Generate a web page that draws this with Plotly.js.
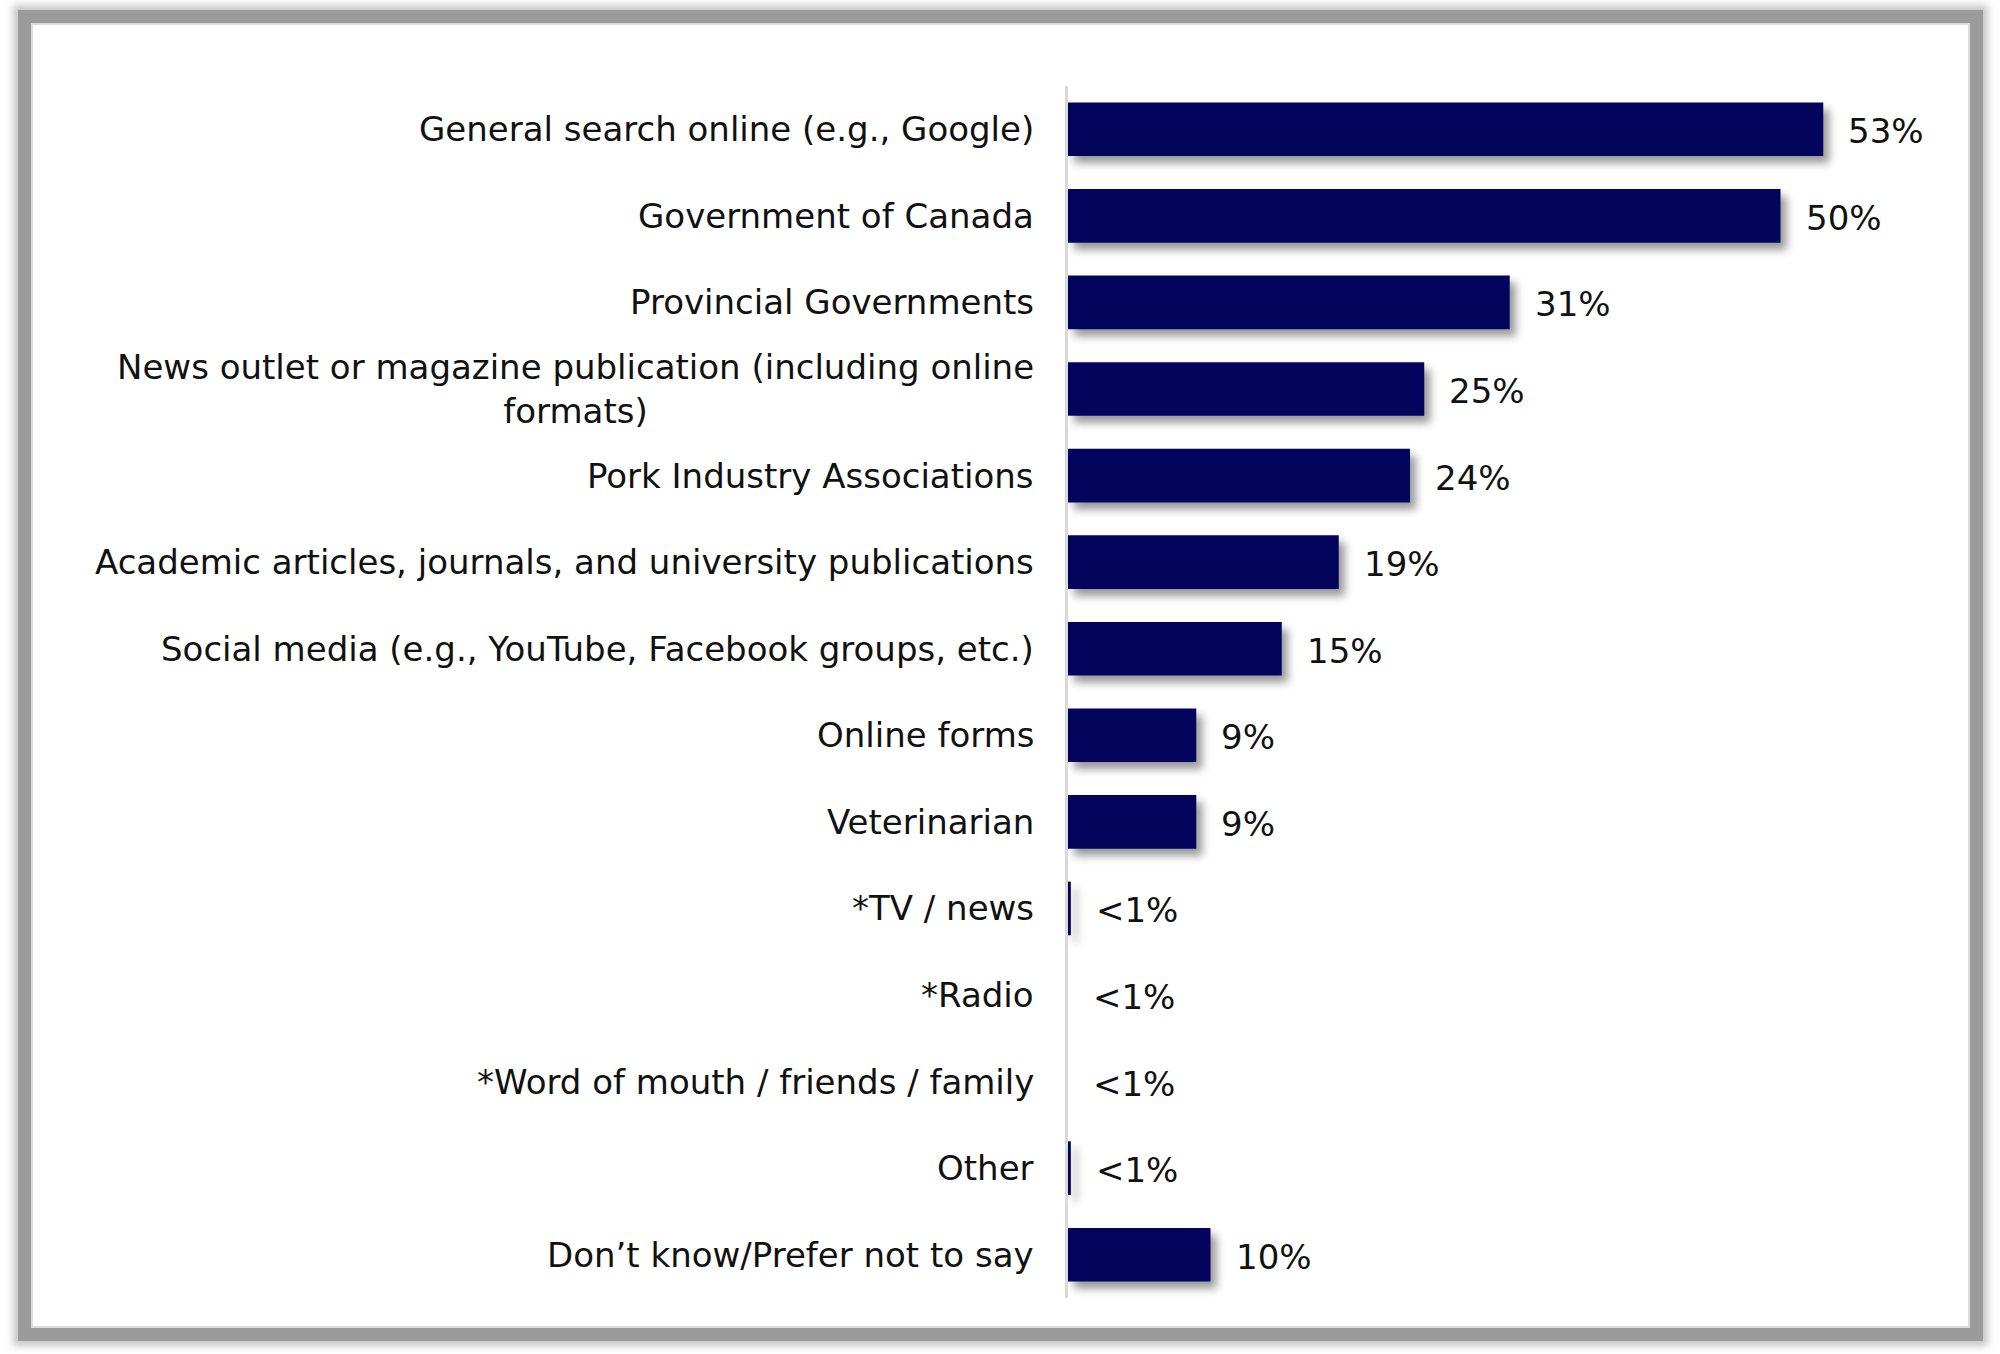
<!DOCTYPE html>
<html>
<head>
<meta charset="utf-8">
<script src="https://cdn.plot.ly/plotly-3.0.1.min.js"></script>
<style>
  body { margin: 0; background: #fff; }
  #frame {
    position: absolute; left: 31px; top: 23px; width: 1935px; height: 1301px;
    border: 2px solid #dcdcdc; background: #fff;
    box-shadow: 0 0 0 13px #9b9b9b, 0 0 7px 18px rgba(155,155,155,0.55);
  }
  #chart { position: absolute; left: 0; top: 0; width: 2000px; height: 1354px; }
  #chart .bars path { filter: drop-shadow(6px 7px 4px rgba(0,0,0,0.4)); }
</style>
</head>
<body>
<div id="frame"></div>
<div id="chart"></div>
<script>
  // sources used, top to bottom
  var categories = [
    'General search online (e.g., Google)',
    'Government of Canada',
    'Provincial Governments',
    'News outlet or magazine publication (including online<br>formats)',
    'Pork Industry Associations',
    'Academic articles, journals, and university publications',
    'Social media (e.g., YouTube, Facebook groups, etc.)',
    'Online forms',
    'Veterinarian',
    '*TV / news',
    '*Radio',
    '*Word of mouth / friends / family',
    'Other',
    'Don\u2019t know/Prefer not to say'
  ];
  var values = [53, 50, 31, 25, 24, 19, 15, 9, 9, 0.2, 0, 0, 0.2, 10];
  var valueLabels = ['53%', '50%', '31%', '25%', '24%', '19%', '15%', '9%', '9%', '<1%', '<1%', '<1%', '<1%', '10%'];

  var txtFont = {family: 'DejaVu Sans', size: 34, color: '#111'};

  var trace = {
    type: 'bar',
    orientation: 'h',
    x: values,
    y: categories,
    marker: {color: '#03055c'},
    hoverinfo: 'none'
  };

  var annotations = [];
  for (var i = 0; i < categories.length; i++) {
    // category label to the left of the axis
    annotations.push({
      xref: 'paper', yref: 'y', x: 0, y: categories[i],
      text: categories[i], showarrow: false,
      xanchor: 'right', yanchor: 'middle', align: 'center',
      xshift: -32, font: txtFont
    });
    // value label right of the bar
    annotations.push({
      xref: 'x', yref: 'y', x: values[i], y: categories[i],
      text: valueLabels[i], showarrow: false,
      xanchor: 'left', yanchor: 'middle',
      xshift: 23, yshift: -2, font: txtFont
    });
  }

  var layout = {
    width: 2000,
    height: 1354,
    margin: {l: 1068, r: 77, t: 86, b: 56},
    paper_bgcolor: 'rgba(0,0,0,0)',
    plot_bgcolor: 'rgba(0,0,0,0)',
    showlegend: false,
    bargap: 0.38,
    font: txtFont,
    xaxis: {range: [0, 60], visible: false, fixedrange: true},
    yaxis: {
      type: 'category',
      range: [13.5, -0.5],
      showticklabels: false,
      showgrid: false,
      zeroline: false,
      ticks: '',
      showline: true,
      linecolor: '#d9d9d9',
      linewidth: 3,
      fixedrange: true
    },
    annotations: annotations
  };

  Plotly.newPlot('chart', [trace], layout, {displayModeBar: false, staticPlot: true});
</script>
</body>
</html>
